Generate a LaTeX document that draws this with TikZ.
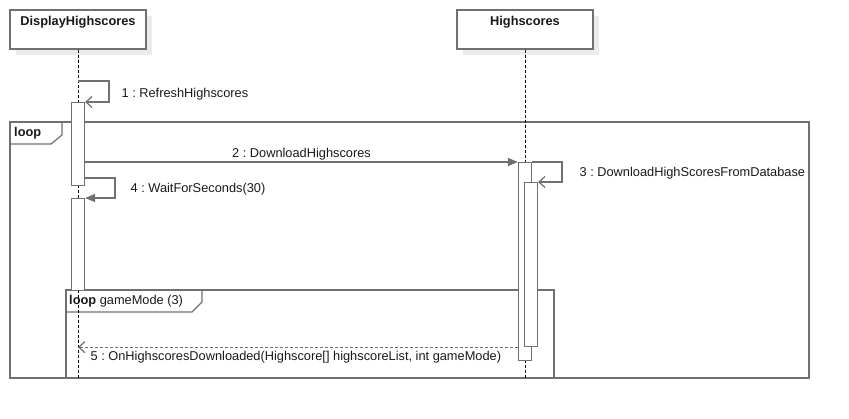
\documentclass[tikz,border=0pt]{standalone}
\usepackage{fontspec}
\setmainfont{Liberation Sans}
\usepackage{tikz}
\usetikzlibrary{arrows.meta, shadows}

\definecolor{umlline}{RGB}{112,112,112}
\definecolor{umltext}{RGB}{25,25,25}
\newcommand{\umlfont}{\fontsize{12.8}{15}\selectfont\frenchspacing}

\begin{document}
\begin{tikzpicture}[x=1pt, y=-1pt, font=\umlfont, text=umltext]
\tikzstyle{head} = [rectangle, draw=umlline, line width=1.2pt, fill=white, minimum width=136pt, minimum height=39pt, drop shadow={shadow xshift=6pt, shadow yshift=-6pt, fill=black!8, opacity=1}]
\tikzstyle{act} = [rectangle, draw=umlline, line width=1.2pt, fill=white, minimum width=13pt, inner sep=0pt, anchor=north]
\tikzstyle{lifeline} = [black, line width=0.8pt, dash pattern=on 3pt off 2pt]
\tikzstyle{frame} = [umlline, line width=1.2pt]
\tikzstyle{call} = [umlline, line width=1.2pt, -{Triangle[length=10pt, width=8pt]}]
\tikzstyle{self} = [umlline, line width=1.2pt, -{Straight Barb[length=6pt, width=11pt]}]
\tikzstyle{reply} = [umlline, line width=1.2pt, dash pattern=on 3pt off 2pt, -{Straight Barb[length=6pt, width=11pt]}]
\tikzstyle{msg} = [inner sep=1pt, text=umltext]

\useasboundingbox (0,0) rectangle (849,418);

% combined fragments
\draw[frame] (10,122) rectangle (809,378);
\draw[frame] (10,144) -- (51,144) -- (62,135) -- (62,122);
\node[msg, anchor=west, font=\umlfont\bfseries] (outerloop) at (13,133) {loop};
\draw[frame] (66,290) rectangle (554,378);
\draw[frame] (66,312) -- (192,312) -- (202,302) -- (202,290);
\node[msg, anchor=west] (innerloop) at (68,301) {\textbf{loop} gameMode (3)};

% lifelines
\node (dh) [head] at (78,29.5) {};
\node (dhname) [msg, font=\umlfont\bfseries] at ([yshift=-13pt]dh.north) {DisplayHighscores};
\node (hs) [head] at (525,29.5) {};
\node (hsname) [msg, font=\umlfont\bfseries] at ([yshift=-13pt]hs.north) {Highscores};
\coordinate (dhend) at (78,378);
\coordinate (hsend) at (525,378);
\draw[lifeline] (dh.south) -- (dhend);
\draw[lifeline] (hs.south) -- (hsend);

% activations
\node (act1) [act, minimum height=83pt] at (78,102) {};
\node (act2) [act, minimum height=92pt] at (78,198) {};
\node (act3) [act, minimum height=198pt] at (525,162) {};
\node (act4) [act, minimum height=164pt] at (531,182) {};

% messages
\draw[self] (dh.south |- 0,81) -- (109,81) -- node[msg, midway, anchor=west, xshift=11pt, yshift=-2.5pt] {1 : RefreshHighscores} (109,102) -- (act1.north east);
\draw[call] (act1.east |- act3.north) -- node[msg, midway, above] {2 : DownloadHighscores} (act3.north west);
\draw[self] (act3.north east) -- (562,162) -- node[msg, midway, anchor=west, xshift=16pt, yshift=-1pt] {3 : DownloadHighScoresFromDatabase} (562,182) -- (act4.north east);
\draw[call] (act1.east |- 0,178) -- (115,178) -- node[msg, midway, anchor=west, xshift=14pt, yshift=-1.5pt] {4 : WaitForSeconds(30)} (115,198) -- (act2.north east);
\draw[reply] (act3.west |- act4.south) -- node[msg, at end, anchor=north west, xshift=11pt, yshift=-2pt] {5 : OnHighscoresDownloaded(Highscore[] highscoreList, int gameMode)} (dhend |- act4.south);

\end{tikzpicture}
\end{document}
